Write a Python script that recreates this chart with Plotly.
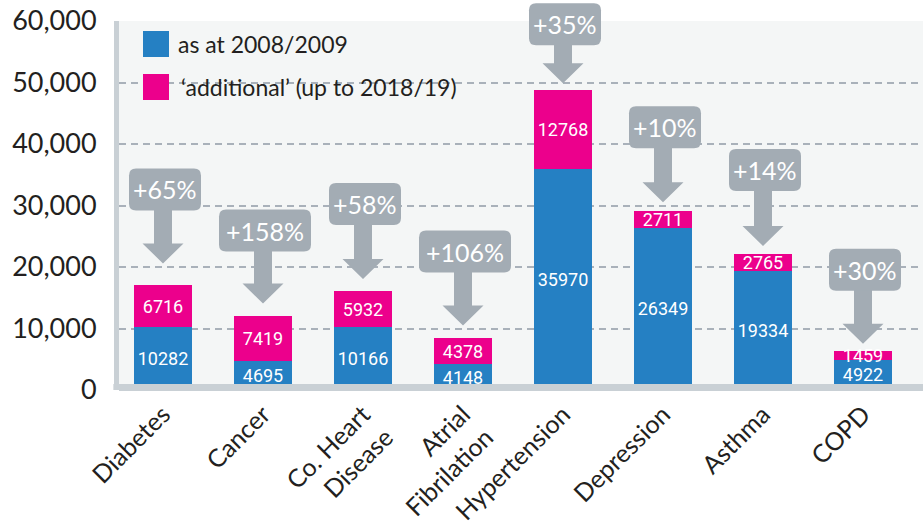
import plotly.graph_objects as go

# ---- data ----
categories = ["Diabetes", "Cancer", "Co. Heart<br>Disease", "Atrial<br>Fibrilation",
              "Hypertension", "Depression", "Asthma", "COPD"]
base_2008 = [10282, 4695, 10166, 4148, 35970, 26349, 19334, 4922]
additional = [6716, 7419, 5932, 4378, 12768, 2711, 2765, 1459]
y_tick_values = [0, 10000, 20000, 30000, 40000, 50000, 60000]
series_names = ["as at 2008/2009", "‘additional’ (up to 2018/19)"]

# ---- layout helpers (pixel offsets for the callout arrows) ----
arrow_gap = [22, 12, 12, 12, 7, 9, 8, 7]
arrow_len = [53, 52, 54, 53, 38, 54, 55, 53]

BLUE = "#2580c3"
PINK = "#ec008c"
GREY_BOX = "#a3acb4"
AXIS_GREY = "#c9d0d5"
TEXT = "#231f20"
FONT = "Lato, 'Open Sans', sans-serif"
NUM_FONT = "Roboto, sans-serif"

Y_MAX = y_tick_values[-1]
x_idx = list(range(len(categories)))
totals = [b + a for b, a in zip(base_2008, additional)]
pct_labels = ["+%d%%" % round(100 * a / b) for b, a in zip(base_2008, additional)]

fig = go.Figure()
for vals, nm, col in [(base_2008, series_names[0], BLUE), (additional, series_names[1], PINK)]:
    fig.add_trace(go.Bar(
        x=x_idx, y=vals, name=nm, marker_color=col, marker_line_width=0,
        width=0.58, text=[str(v) for v in vals], textposition="inside", textangle=0,
        insidetextanchor="middle", constraintext="none",
        textfont=dict(family=NUM_FONT, size=18, color="white"),
        hoverinfo="skip", showlegend=False, cliponaxis=False))

shapes = []
annotations = []


def rounded_rect(x0, x1, y0, y1, r):
    return (f"M {x0 + r},{y0} L {x1 - r},{y0} Q {x1},{y0} {x1},{y0 + r} "
            f"L {x1},{y1 - r} Q {x1},{y1} {x1 - r},{y1} L {x0 + r},{y1} "
            f"Q {x0},{y1} {x0},{y1 - r} L {x0},{y0 + r} Q {x0},{y0} {x0 + r},{y0} Z")


for i, (tot, lab) in enumerate(zip(totals, pct_labels)):
    g = arrow_gap[i]
    L = arrow_len[i]
    frac = tot / Y_MAX  # bar top as a fraction of the plot height (y-range starts at 0)
    arrow = (f"M 0,{g} L -20.5,{g + 20} L -9,{g + 20} L -9,{g + L + 3} "
             f"L 9,{g + L + 3} L 9,{g + 20} L 20.5,{g + 20} Z")
    shapes.append(dict(type="path", xref="x", yref="paper", xsizemode="pixel", ysizemode="pixel",
                       xanchor=x_idx[i], yanchor=frac, path=arrow,
                       fillcolor=GREY_BOX, line=dict(width=0), layer="above"))
    w = 72 if len(lab) <= 4 else 92
    shapes.append(dict(type="path", xref="x", yref="paper", xsizemode="pixel", ysizemode="pixel",
                       xanchor=x_idx[i], yanchor=frac,
                       path=rounded_rect(2 - w / 2, 2 + w / 2, g + L, g + L + 42, 7),
                       fillcolor=GREY_BOX, line=dict(width=0), layer="above"))
    annotations.append(dict(x=x_idx[i], y=tot, xref="x", yref="y", xshift=2, yshift=g + L + 21,
                            text=lab, showarrow=False, xanchor="center", yanchor="middle",
                            font=dict(family=FONT, size=25, color="white")))

# bottom axis bar
shapes.append(dict(type="rect", xref="paper", x0=-0.007, x1=1, yref="paper", ysizemode="pixel",
                   yanchor=0, y0=0, y1=6, fillcolor=AXIS_GREY, line=dict(width=0), layer="above"))

# custom legend
legend_colors = [BLUE, PINK]
for k, (nm, col) in enumerate(zip(series_names, legend_colors)):
    top = -10 - 43 * k
    shapes.append(dict(type="rect", xref="paper", yref="paper", xsizemode="pixel",
                       ysizemode="pixel", xanchor=0, yanchor=1, x0=24, x1=50,
                       y0=top, y1=top - 26, fillcolor=col, line=dict(width=0), layer="above"))
    annotations.append(dict(x=0, y=1, xref="paper", yref="paper", xshift=57 if k == 0 else 60,
                            yshift=top - 13, text=nm, showarrow=False, xanchor="left",
                            yanchor="middle", font=dict(family=FONT, size=23, color=TEXT)))

fig.update_layout(
    width=923, height=521,
    margin=dict(l=119, r=0, t=21, b=131),
    barmode="stack",
    plot_bgcolor="#f4f6f6",
    paper_bgcolor="white",
    shapes=shapes,
    annotations=annotations,
    showlegend=False,
    font=dict(family=FONT, color=TEXT),
)
fig.update_xaxes(
    range=[-0.44, 7.6], tickmode="array", tickvals=x_idx, ticktext=categories,
    tickangle=-45, tickfont=dict(family=FONT, size=25, color=TEXT), automargin=False,
    showgrid=False, zeroline=False, showline=False, ticks="", ticklabelstandoff=4,
)
fig.update_yaxes(
    range=[0, Y_MAX], tickmode="array", tickvals=y_tick_values, tickformat=",d",
    tickfont=dict(family=FONT, size=27, color=TEXT), automargin=False,
    showgrid=True, gridcolor="#a9b1ba", gridwidth=1.5, griddash="7px,5px",
    zeroline=True, zerolinecolor=AXIS_GREY, zerolinewidth=2,
    showline=True, linecolor=AXIS_GREY, linewidth=5, ticks="", ticklabelstandoff=12,
)

fig.write_html("out.html", config={"displayModeBar": False},
               post_script="document.body.style.margin='0';document.body.style.overflow='hidden';")
